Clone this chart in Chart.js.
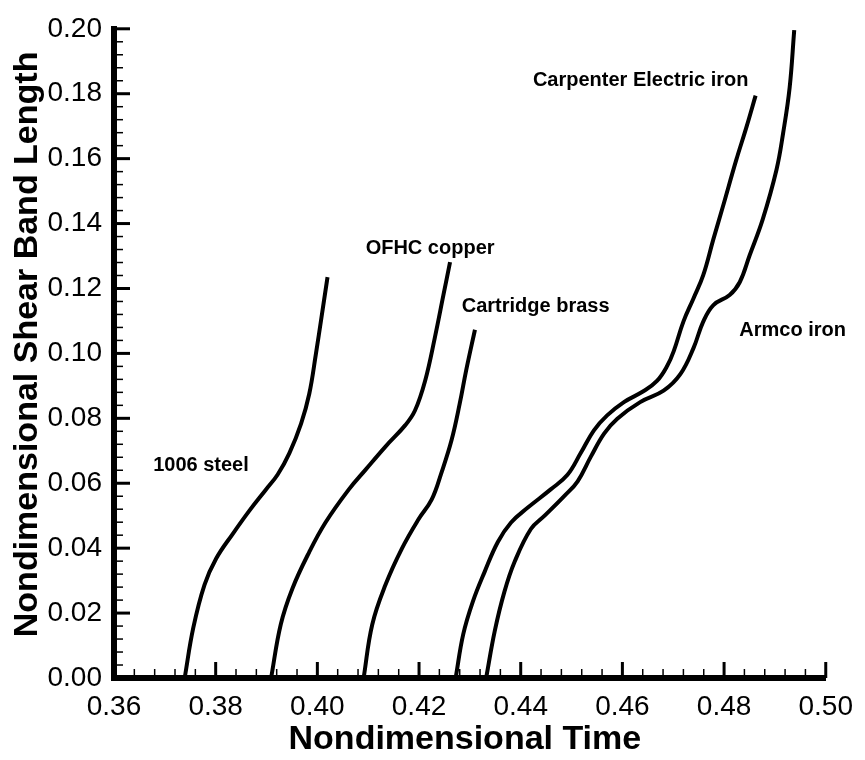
<!DOCTYPE html>
<html>
<head>
<meta charset="utf-8">
<title>Shear band length</title>
<script src="https://cdn.jsdelivr.net/npm/chart.js@4.4.1/dist/chart.umd.min.js"></script>
<style>
  html, body { margin: 0; padding: 0; background: #fff; }
</style>
</head>
<body>
<canvas id="bandChart" width="865" height="760"></canvas>
<script>
// Axis ranges and tick spacing
const timeRange = [0.36, 0.50];
const lengthRange = [0.00, 0.20];
const majorStep = 0.02;
const minorStep = 0.004;

// Shear band length vs nondimensional time, one pair of arrays per material
const steelTime   = [0.3739, 0.3756, 0.3778, 0.3801, 0.3834, 0.3866, 0.3899, 0.3922, 0.3945, 0.3968, 0.3984, 0.3997, 0.4008, 0.4020];
const steelLength = [0.0000, 0.0155, 0.0287, 0.0368, 0.0445, 0.0515, 0.0581, 0.0627, 0.0693, 0.0784, 0.0875, 0.0997, 0.1110, 0.1235];

const copperTime   = [0.3909, 0.3928, 0.3951, 0.3984, 0.4016, 0.4062, 0.4095, 0.4134, 0.4173, 0.4192, 0.4212, 0.4231, 0.4248, 0.4261];
const copperLength = [0.0000, 0.0165, 0.0276, 0.0388, 0.0479, 0.0581, 0.0642, 0.0713, 0.0779, 0.0824, 0.0916, 0.1048, 0.1180, 0.1281];

const brassTime   = [0.4091, 0.4108, 0.4134, 0.4166, 0.4199, 0.4225, 0.4244, 0.4264, 0.4280, 0.4293, 0.4310];
const brassLength = [0.0000, 0.0165, 0.0287, 0.0398, 0.0489, 0.0550, 0.0632, 0.0733, 0.0845, 0.0950, 0.1073];

const carpenterTime   = [0.4272, 0.4287, 0.4306, 0.4329, 0.4355, 0.4381, 0.4414, 0.4459, 0.4492, 0.4518, 0.4544, 0.4570, 0.4603,
                         0.4642, 0.4668, 0.4688, 0.4701, 0.4720, 0.4740, 0.4759, 0.4779, 0.4798, 0.4824, 0.4844, 0.4862];
const carpenterLength = [0.0000, 0.0135, 0.0236, 0.0327, 0.0419, 0.0479, 0.0525, 0.0581, 0.0626, 0.0693, 0.0763, 0.0809, 0.0850,
                         0.0884, 0.0915, 0.0961, 0.1007, 0.1098, 0.1170, 0.1241, 0.1352, 0.1454, 0.1596, 0.1697, 0.1794];

const armcoTime   = [0.4332, 0.4349, 0.4368, 0.4388, 0.4420, 0.4447, 0.4486, 0.4512, 0.4538, 0.4564, 0.4590, 0.4635, 0.4681,
                     0.4714, 0.4740, 0.4759, 0.4779, 0.4811, 0.4831, 0.4850, 0.4876, 0.4903, 0.4916, 0.4929, 0.4938];
const armcoLength = [0.0000, 0.0145, 0.0266, 0.0358, 0.0459, 0.0500, 0.0561, 0.0606, 0.0682, 0.0753, 0.0799, 0.0850, 0.0885,
                     0.0936, 0.1017, 0.1098, 0.1149, 0.1180, 0.1220, 0.1301, 0.1413, 0.1565, 0.1677, 0.1819, 0.1996];

// Curve labels, anchored in data units (left end of the text baseline)
const labelText   = ['1006 steel', 'OFHC copper', 'Cartridge brass', 'Carpenter Electric iron', 'Armco iron'];
const labelTime   = [0.3677, 0.4095, 0.4284, 0.4424, 0.4830];
const labelLength = [0.0638, 0.1306, 0.1129, 0.1824, 0.1053];

// Axis titles
const timeTitle = 'Nondimensional Time';
const lengthTitle = 'Nondimensional Shear Band Length';

const FONT = "'Liberation Sans', Arial, Helvetica, sans-serif";

function toPoints(t, l) {
    return t.map((x, i) => ({ x: x, y: l[i] }));
}

function curve(name, t, l) {
    return {
        label: name,
        data: toPoints(t, l),
        borderColor: '#000',
        borderWidth: 4,
        pointRadius: 0,
        tension: 0.4,
        fill: false
    };
}

// Inward major/minor tick marks on both axes
const innerTicks = {
    id: 'innerTicks',
    afterDatasetsDraw(chart) {
        const { ctx, chartArea, scales: { x, y } } = chart;
        ctx.save();
        ctx.strokeStyle = '#000';

        const nx = Math.round((timeRange[1] - timeRange[0]) / minorStep);
        for (let i = 0; i <= nx; i++) {
            const major = i % 5 === 0;
            const px = x.getPixelForValue(timeRange[0] + i * minorStep);
            ctx.lineWidth = major ? 3 : 1.5;
            ctx.beginPath();
            ctx.moveTo(px, chartArea.bottom);
            ctx.lineTo(px, chartArea.bottom - (major ? 16 : 9));
            ctx.stroke();
        }

        const ny = Math.round((lengthRange[1] - lengthRange[0]) / minorStep);
        for (let i = 0; i <= ny; i++) {
            const major = i % 5 === 0;
            const py = y.getPixelForValue(lengthRange[0] + i * minorStep);
            ctx.lineWidth = major ? 3 : 1.5;
            ctx.beginPath();
            ctx.moveTo(chartArea.left, py);
            ctx.lineTo(chartArea.left + (major ? 16 : 9), py);
            ctx.stroke();
        }
        ctx.restore();
    }
};

// Material names next to each curve, plus the two axis titles
const curveLabels = {
    id: 'curveLabels',
    afterDraw(chart) {
        const { ctx, chartArea, scales: { x, y } } = chart;
        ctx.save();
        ctx.fillStyle = '#000';
        ctx.font = 'bold 20px ' + FONT;
        ctx.textAlign = 'left';
        ctx.textBaseline = 'alphabetic';
        labelText.forEach((txt, i) => {
            ctx.fillText(txt, x.getPixelForValue(labelTime[i]), y.getPixelForValue(labelLength[i]));
        });

        ctx.font = 'bold 34px ' + FONT;
        ctx.textAlign = 'center';
        ctx.fillText(timeTitle, (chartArea.left + chartArea.right) / 2 - 5, chartArea.bottom + 71);

        ctx.translate(37, (chartArea.top + chartArea.bottom) / 2 - 9);
        ctx.rotate(-Math.PI / 2);
        ctx.fillText(lengthTitle, 0, 0);
        ctx.restore();
    }
};

const ctx = document.getElementById('bandChart').getContext('2d');
const bandChart = new Chart(ctx, {
    type: 'line',
    data: {
        datasets: [
            curve('1006 steel', steelTime, steelLength),
            curve('OFHC copper', copperTime, copperLength),
            curve('Cartridge brass', brassTime, brassLength),
            curve('Carpenter Electric iron', carpenterTime, carpenterLength),
            curve('Armco iron', armcoTime, armcoLength)
        ]
    },
    options: {
        responsive: false,
        animation: false,
        devicePixelRatio: 1,
        layout: {
            padding: { left: 0, top: 21, right: 35, bottom: 0 }
        },
        plugins: {
            legend: { display: false },
            tooltip: { enabled: false }
        },
        scales: {
            x: {
                type: 'linear',
                min: timeRange[0],
                max: timeRange[1],
                afterFit: (scale) => { scale.height = 82; },
                border: { display: true, color: '#000', width: 6 },
                grid: { display: false, drawTicks: false },
                ticks: {
                    stepSize: majorStep,
                    padding: 12,
                    color: '#000',
                    font: { family: FONT, size: 28 },
                    maxRotation: 0,
                    callback: (v) => v.toFixed(2)
                }
            },
            y: {
                type: 'linear',
                min: lengthRange[0],
                max: lengthRange[1],
                afterFit: (scale) => { scale.width = 114; },
                border: { display: true, color: '#000', width: 6 },
                grid: { display: false, drawTicks: false },
                ticks: {
                    stepSize: majorStep,
                    padding: 12,
                    color: '#000',
                    font: { family: FONT, size: 28 },
                    callback: (v) => v.toFixed(2)
                }
            }
        }
    },
    plugins: [innerTicks, curveLabels]
});
</script>
</body>
</html>
